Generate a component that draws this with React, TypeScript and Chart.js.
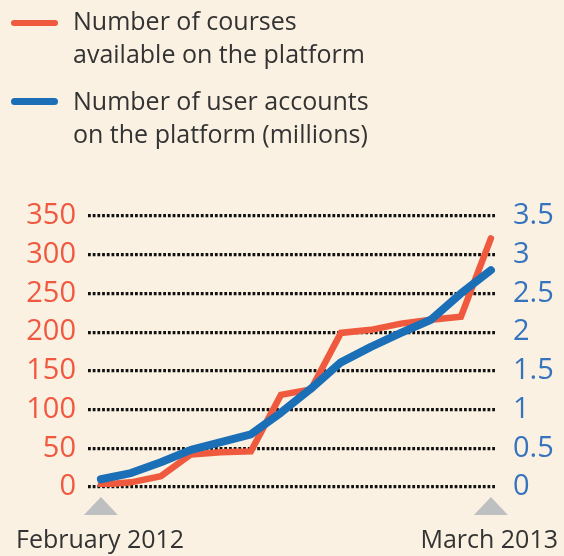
import React, { useEffect, useRef } from "react";
import { Chart, registerables } from "chart.js";

Chart.register(...registerables);

const months: string[] = [
  "Feb 2012", "Mar 2012", "Apr 2012", "May 2012", "Jun 2012", "Jul 2012", "Aug 2012",
  "Sep 2012", "Oct 2012", "Nov 2012", "Dec 2012", "Jan 2013", "Feb 2013", "Mar 2013",
];
const courses: number[] = [3, 6, 14, 42, 45, 46, 119, 126, 199, 203, 211, 216, 220, 321];
const users: number[] = [0.1, 0.18, 0.32, 0.48, 0.58, 0.68, 0.96, 1.27, 1.61, 1.81, 1.99, 2.16, 2.5, 2.8];
const leftTicks: number[] = [0, 50, 100, 150, 200, 250, 300, 350];
const rightTicks: number[] = [0, 0.5, 1, 1.5, 2, 2.5, 3, 3.5];
const startLabel = "February 2012";
const endLabel = "March 2013";
const legendCourses = ["Number of courses", "available on the platform"];
const legendUsers = ["Number of user accounts", "on the platform (millions)"];

const BG = "#FAF1E2";
const RED = "#EF5A3E";
const BLUE = "#1A6FB7";
const RED_TXT = "#F0583F";
const BLUE_TXT = "#3673BF";
const TXT = "#333333";
const FONT = "'Open Sans', sans-serif";

const trianglePlugin = {
  id: "triangles",
  afterDraw(chart: any) {
    const ctx = chart.ctx;
    const xs = chart.scales.x;
    const idx = [0, months.length - 1];
    ctx.save();
    ctx.fillStyle = "#BEBFC1";
    idx.forEach((i) => {
      const cx = xs.getPixelForValue(i);
      ctx.beginPath();
      ctx.moveTo(cx, 497);
      ctx.lineTo(cx + 17, 515);
      ctx.lineTo(cx - 17, 515);
      ctx.closePath();
      ctx.fill();
    });
    ctx.restore();
  },
};

export default function App() {
  const ref = useRef<HTMLCanvasElement | null>(null);

  useEffect(() => {
    document.body.style.margin = "0";
    document.body.style.background = BG;
    if (!ref.current) return;
    const chart = new Chart(ref.current, {
      type: "line",
      data: {
        datasets: [
          {
            label: "courses",
            data: courses.map((v, i) => ({ x: i, y: v })),
            borderColor: RED,
            backgroundColor: RED,
            borderWidth: 6.5,
            pointRadius: 0,
            borderCapStyle: "round",
            borderJoinStyle: "miter",
            tension: 0,
            yAxisID: "y",
            order: 1,
          },
          {
            label: "users",
            data: users.map((v, i) => ({ x: i, y: v })),
            borderColor: BLUE,
            backgroundColor: BLUE,
            borderWidth: 8,
            pointRadius: 0,
            borderCapStyle: "round",
            borderJoinStyle: "round",
            tension: 0,
            yAxisID: "y1",
            order: 0,
          },
        ],
      },
      options: {
        responsive: false,
        animation: false,
        devicePixelRatio: 1,
        layout: { padding: { top: 216, bottom: 69, left: 0, right: 0 } },
        plugins: { legend: { display: false }, tooltip: { enabled: false } },
        scales: {
          x: {
            type: "linear",
            min: -0.43,
            max: months.length - 1 + 0.17,
            display: false,
          },
          y: {
            position: "left",
            min: 0,
            max: 350,
            afterBuildTicks: (s: any) => {
              s.ticks = leftTicks.map((v) => ({ value: v }));
            },
            afterFit: (s: any) => {
              s.width = 88;
            },
            ticks: {
              color: RED_TXT,
              font: { family: FONT, size: 29 },
              padding: 12,
              callback: (v: any) => String(v),
            },
            grid: {
              color: "#111111",
              lineWidth: 3.2,
              drawTicks: false,
            },
            border: { display: false, dash: [2.8, 1.9] },
          },
          y1: {
            position: "right",
            min: 0,
            max: 3.5,
            afterBuildTicks: (s: any) => {
              s.ticks = rightTicks.map((v) => ({ value: v }));
            },
            afterFit: (s: any) => {
              s.width = 68;
            },
            ticks: {
              color: BLUE_TXT,
              font: { family: FONT, size: 29 },
              padding: 17,
              callback: (v: any) => String(v),
            },
            grid: { display: false, drawTicks: false },
            border: { display: false },
          },
        },
      },
      plugins: [trianglePlugin],
    } as any);
    return () => chart.destroy();
  }, []);

  const textStyle: React.CSSProperties = {
    position: "absolute",
    fontFamily: FONT,
    fontSize: 25,
    lineHeight: "33px",
    color: TXT,
    whiteSpace: "nowrap",
  };

  return (
    <div
      style={{
        position: "absolute",
        left: 0,
        top: 0,
        width: 564,
        height: 556,
        background: BG,
        overflow: "hidden",
      }}
    >
      <canvas
        ref={ref}
        width={564}
        height={556}
        style={{ position: "absolute", left: 0, top: 0, width: 564, height: 556 }}
      />
      <div style={{ position: "absolute", left: 11, top: 20, width: 47, height: 6, background: RED, borderRadius: 3 }} />
      <div style={{ ...textStyle, left: 73, top: 4 }}>
        {legendCourses.map((l) => (
          <div key={l}>{l}</div>
        ))}
      </div>
      <div style={{ position: "absolute", left: 11, top: 98, width: 47, height: 7, background: BLUE, borderRadius: 3.5 }} />
      <div style={{ ...textStyle, left: 73, top: 84 }}>
        {legendUsers.map((l) => (
          <div key={l}>{l}</div>
        ))}
      </div>
      <div style={{ ...textStyle, left: 16, top: 522 }}>{startLabel}</div>
      <div style={{ ...textStyle, right: 6, top: 522 }}>{endLabel}</div>
    </div>
  );
}
